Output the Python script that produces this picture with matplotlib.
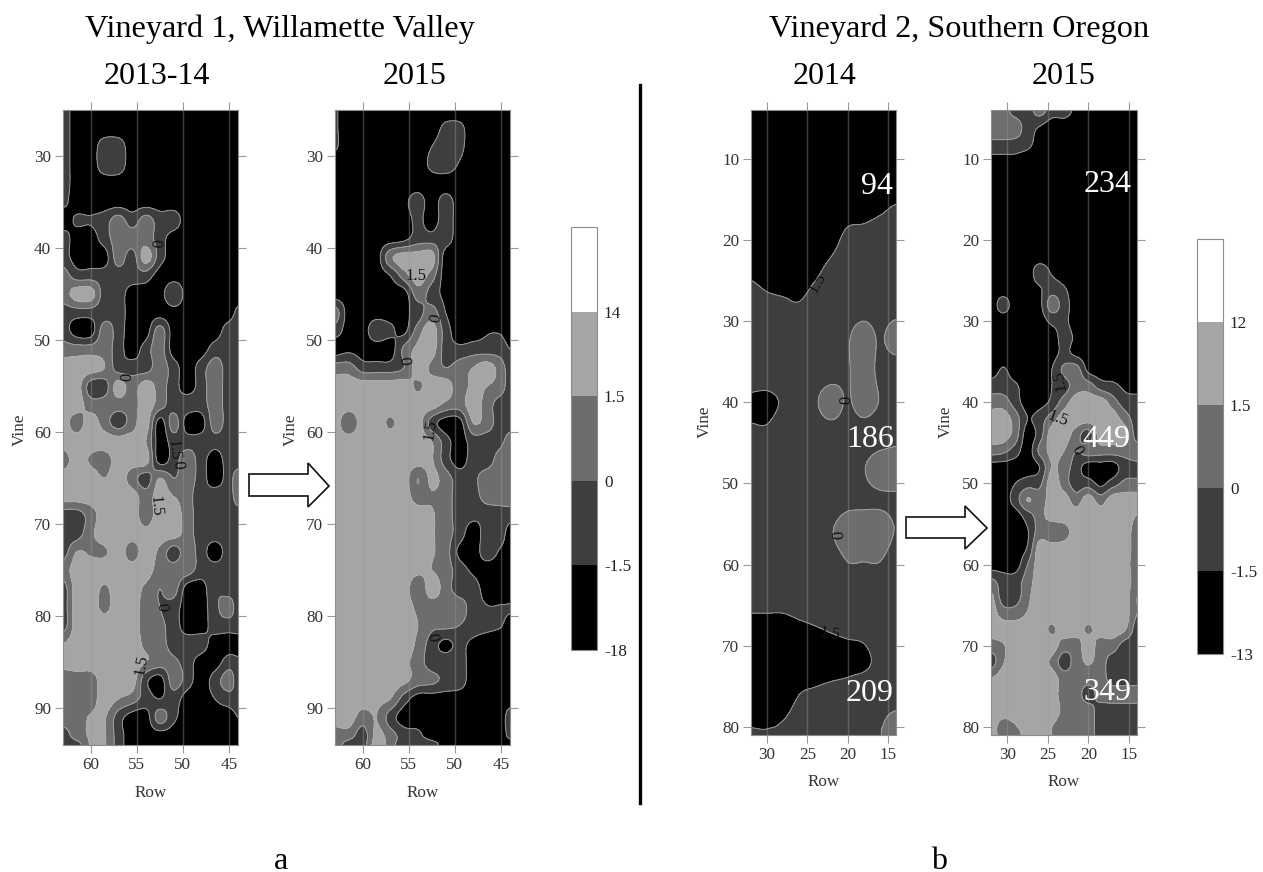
import numpy as np
import matplotlib
matplotlib.use("Agg")
import matplotlib.pyplot as plt
from matplotlib.patches import Polygon
from matplotlib.lines import Line2D

plt.rcParams['font.family'] = ['Liberation Serif', 'DejaVu Serif']

W, H = 1263, 872

# band values (-3 black, -1 dark, 1 mid, 3 light), scaled below
rows_v1 = [63, 61.5, 60, 58.5, 57, 55.5, 54, 52.5, 51, 49.5, 48, 46.5, 45, 44]
vines_v1 = list(range(25, 94, 2)) + [94]

v1_2013 = [
    [-1, -3, -3, -3, -3, -3, -3, -3, -3, -3, -3, -3, -3, -3],
    [-1, -3, -3, -3, -3, -3, -3, -3, -3, -3, -3, -3, -3, -3],
    [-1, -3, -3, -1, -1, -3, -3, -3, -3, -3, -3, -3, -3, -3],
    [-1, -3, -3, -1, -1, -3, -3, -3, -3, -3, -3, -3, -3, -3],
    [-1, -3, -3, -3, -3, -3, -3, -3, -3, -3, -3, -3, -3, -3],
    [-1.5, -3, -3, -3, -3, -3, -3, -3, -3, -3, -3, -3, -3, -3],
    [-3, -1.7, -1.8, -1, 1, -1, 1, -1, -1, -3, -3, -3, -3, -3],
    [-1, -3, -3, -1, 1, 1, 1, -1, -3, -3, -3, -3, -3, -3],
    [-1, -3, -3, -3, 1, -1, 3, -1, -3, -3, -3, -3, -3, -3],
    [1, -1, -1, -1, -1, -1, -1, -3, -3, -3, -3, -3, -3, -3],
    [1, 3, 3, -1, -1, -3, -3, -3, 0, -3, -3, -3, -3, -3],
    [-1, -1, -1, -1, -1, -3, -3, -3, -3, -3, -3, -3, -3, -1.5],
    [-1, -3, -3, 1, -1, -3, -3, 1, -3, -3, -3, -3, -1, -1],
    [1, 1, 1, 1, -1, -3, -1, 1, -3, -3, -3, -1, -1, -1],
    [3, 3, 3, 2, -1, -1, -1, 1, -1, -3, -1, 1, -1, -1],
    [3, 3, -1, -1, 3, 1, 3, 1, -1, -3, -1, 1, -1, -1],
    [3, 3, 1, 1, 1, 1, 3, 1, -1, -1, -1, 1, -1, -1],
    [3, 1, 3, 1, -1, 1, 3, -3, 1, -3, -3, 1, -1, -1],
    [3, 3, 3, 3, 3, 3, 2, -3, -1, -1, -1, -1, -1, -1],
    [1, 3, 1.7, 1, 3, 3, 3, -3, -1, 1, -1, -3, -1, -1],
    [3, 3, 3, 2, 3, 1, -1, 2, 0, 1, -1, -3, -1, 1],
    [3, 3, 3, 3, 3, 3, 1, 3, 2, 1, -1.5, -1, -1, 1],
    [-1, -1, 1, 3, 3, 3, 1, 3, 3, 1, -1, -1, -1, -1],
    [-1, -1, 1.5, 3, 3, 3, 2.5, 3, 3, 1, -1, -1, -1, -1],
    [-1, 2, 1.7, 1.7, 3, 1, 3, 1.5, -1, 1, -1, -3, -1, -1],
    [1, 3, 3, 3, 3, 3, 3, 1, 1, 1, -1, -1, -1, -1],
    [-1, 3, 3, 1.7, 3, 3, 1.5, 0, 1, -3, -3, -0.3, -1, -1],
    [-1, 3, 3, 1.5, 3, 3, 1, 0, -1, -3, -3, -0.6, 1, -1],
    [-1, 3, 3, 3, 3, 3, 1, 0.5, -1, -3, -3, -1, -1, -1],
    [2, 3, 3, 3, 3, 3, 1.5, 1, -1, -1, -1, -3, -3, -3],
    [2.5, 3, 3, 3, 3, 3, 2, 1, 0.5, -1, -3, -3, -1, -1.5],
    [1, 1, 1, 3, 3, 3, -1.5, -3, 1, -1, -3, -1, 1, -1],
    [1, 1, 1, 3, 2, 1, -1, -2, -1, -3, -3, -2, -1, -1],
    [1, 1, 2.2, 2.2, -1, -3, -3, 1, -1.5, -3, -3, -3, -3, -2],
    [-1, 1, 2.2, 2.2, -1, -3, -3, -3, -3, -3, -3, -3, -3, -3],
    [-1, -1, 2.2, 2.2, -1, -3, -3, -3, -3, -3, -3, -3, -3, -3],
]

v1_2015 = [
    [-1.8, -3, -3, -3, -3, -3, -3, -3, -3, -3, -3, -3, -3, -3],
    [-1.8, -3, -3, -3, -3, -3, -3, -3, -1.5, -1.5, -3, -3, -3, -3],
    [-1.8, -3, -3, -3, -3, -3, -3, -2, -1, -1.5, -3, -3, -3, -3],
    [-3, -3, -3, -3, -3, -3, -3, -1.6, -1, -2.2, -3, -3, -3, -3],
    [-3, -3, -3, -3, -3, -3, -3, -3, -3, -3, -3, -3, -3, -3],
    [-3, -3, -3, -3, -3, -2.5, -1, -3, -1, -3, -3, -3, -3, -3],
    [-3, -3, -3, -3, -3, -3, -1.5, -3, -1, -3, -3, -3, -3, -3],
    [-3, -3, -3, -3, -3, -2.5, -1, -1, -1, -3, -3, -3, -3, -3],
    [-3, -3, -3, -3, 1.5, 3, 3, 3, -3, -3, -3, -3, -3, -3],
    [-3, -3, -3, -3, -2, 1, 3, 1, -3, -3, -3, -3, -3, -3],
    [-3, -3, -3, -3, -3, -3, 1, -1, -2.5, -3, -3, -3, -3, -3],
    [1, -3, -3, -3, -3, -2.5, -1, 1, -2, -3, -3, -3, -3, -3],
    [-1, -3, -3, -0.5, -1.5, -2.5, 1, 3, -1, -3, -3, -2.2, -2.2, -3],
    [-3, -2.5, -3, -3, -3, 0.5, 2.5, 3, -1, -1.5, -1, -1, -1, -2],
    [1, 1, -1, -1, -1, 0, 3, 1.5, 0, 1, 2, 3, 1, -1],
    [3, 3, 3, 3, 3, 3, 1.7, 3, 3, 1, 2.5, 2, 1, -1],
    [3, 3, 3, 3, 3, 3, 3, 3, 1.5, 1, 3, 1, -1, -1],
    [3, 0.5, 3, 3, 1.7, 3, 3, -1, -3, -3, 2, 1, -1, -1],
    [3, 3, 3, 3, 3, 3, 3, 2, -1, -3, -1, -1, -0.5, 1],
    [3, 3, 3, 3, 3, 3, 3, 2.2, -1, -3, -1, -1, 1, 1],
    [3, 3, 3, 3, 3, 3, 0, 2.5, 1, -1, -0.5, 1, 1, 1],
    [3, 3, 3, 3, 3, 3, 1, 1.8, 1, -1, -1, 1, 1, 1],
    [3, 3, 3, 3, 3, 3, 3, 2.2, 1, -1, -1.5, -1.5, -1, -1],
    [3, 3, 3, 3, 3, 3, 3, 2.2, 1, -1, -3, -1, -1, -3],
    [3, 3, 3, 3, 3, 3, 3, 2.2, 1, -2.5, -3, -1, -2.3, -3],
    [3, 3, 3, 3, 3, 3, 2.5, 2, 1, -1, -2.4, -3, -3, -3],
    [3, 3, 3, 3, 3, 3, 0.5, 3, 1, -1, -1, -3, -3, -3],
    [3, 3, 3, 3, 3, 3, 1.5, 1, 1, 1, -1, -1.9, -1.9, -1.9],
    [3, 3, 3, 3, 3, 3, 2, 0.5, 0.5, 0, -1, -1.5, -1.9, -2.5],
    [3, 3, 3, 3, 3, 3, 1.5, -1, -2.5, -1.5, -2.5, -3, -3, -3],
    [3, 3, 3, 3, 3, 2.5, 1, -1, -1, -1, -3, -3, -3, -3],
    [3, 3, 3, 3, 3, 2.5, 1, 0.5, -0.5, -1, -3, -3, -3, -3],
    [3, 3, 3, 2.5, 2, -1, -3, -3, -3, -3, -3, -3, -3, -3],
    [3, 3, 1, 2, -1, -3, -3, -3, -3, -3, -3, -3, -3, -1],
    [1, 1, -1, 2.5, 1, -1, -1.5, -3, -3, -3, -3, -3, -3, -1.5],
    [1, -1, -1, 3, 1, -1.5, -1, -1, -3, -3, -3, -3, -3, -3],
]

rows_v2_2014 = [32, 30, 28, 26, 24, 22, 20, 18, 16, 14]
vines_v2_2014 = [4, 8, 12, 16, 20, 24, 28, 32, 36, 40, 44, 48, 52, 56, 60, 64, 68, 72, 76, 80, 81]

v2_2014 = [
    [-3, -3, -3, -3, -3, -3, -3, -3, -3, -3],
    [-3, -3, -3, -3, -3, -3, -3, -3, -3, -3],
    [-3, -3, -3, -3, -3, -3, -3, -3, -3, -2.9],
    [-3, -3, -3, -3, -3, -3, -2.6, -2.5, -2.25, -1.9],
    [-3, -3, -3, -3, -3, -2.5, -1.6, -1.5, -1.25, -1],
    [-2.25, -2.6, -2.75, -2.9, -2.25, -1.5, -1, -1, -1, -1],
    [-1.25, -1.6, -1.75, -1.9, -1.25, -1, -1, -1, -1, -1],
    [-1, -1, -1, -1, -1, -1, -0.2, 1, -0.2, 1],
    [-1, -1, -1, -1, -1, -1, -0.2, 1, -0.5, -1],
    [-2.3, -2.4, -1.8, -1, -0.2, 1, -0.2, 1, -0.1, -1],
    [-1.7, -1.7, -1, -1, -1, -1, -1, -1, -1, -0.6],
    [-1, -1, -1, -1, -1, -1, -1, -0.1, 1, 1],
    [-1, -1, -1, -1, -1, -1, -0.6, -0.4, -0.3, -0.3],
    [-1, -1, -1, -1, -1, -0.1, 1, 1, 1, -0.1],
    [-1, -1, -1, -1, -1, -1, -0.1, -0.1, -0.1, -1],
    [-1.5, -1.5, -1.5, -1.3, -1.1, -1, -1, -1, -1, -1],
    [-2.5, -2.5, -2.5, -2.3, -2.1, -1.9, -1.75, -1.6, -1, -1],
    [-3, -3, -3, -3, -2.75, -2.55, -2.4, -2.3, -1.6, -1],
    [-3, -3, -3, -2, -1.75, -1.55, -1.4, -1, -1, -1],
    [-2.05, -2.1, -1.8, -1, -1, -1, -1, -1, -0.2, 1],
    [-1.9, -1.9, -1.5, -1, -1, -1, -1, -1, -0.1, 1],
]

rows_v2_2015 = [32, 30.5, 29, 27.5, 26, 24.5, 23, 21.5, 20, 18.5, 17, 15.5, 14]
vines_v2_2015 = [4, 6, 8, 10, 16, 22] + list(range(24, 81, 2)) + [81]

v2_2015 = [
    [1, 1, -1, -1, 1, -1, -1, -2.5, -3, -3, -3, -3, -3],
    [1, 1, 1, -1, -2, -3, -3, -3, -3, -3, -3, -3, -3],
    [-0.3, -0.3, -0.5, -1.2, -3, -3, -3, -3, -3, -3, -3, -3, -3],
    [-2.5, -2.5, -2.5, -3, -3, -3, -3, -3, -3, -3, -3, -3, -3],
    [-3, -3, -3, -3, -3, -3, -3, -3, -3, -3, -3, -3, -3],
    [-3, -3, -3, -3, -3, -3, -3, -3, -3, -3, -3, -3, -3],
    [-3, -3, -3, -3, -1, -2.2, -3, -3, -3, -3, -3, -3, -3],
    [-3, -3, -3, -3, -2.2, -1, -1.8, -3, -3, -3, -3, -3, -3],
    [-3, -1.2, -3, -3, -2.5, 1, -1, -3, -3, -3, -3, -3, -3],
    [-3, -3, -3, -3, -3, -1.5, -1.5, -3, -3, -3, -3, -3, -3],
    [-3, -3, -3, -3, -3, -3, -1.2, -2.4, -3, -3, -3, -3, -3],
    [-3, -3, -3, -3, -3, -2.8, -1.5, -2.5, -3, -3, -3, -3, -3],
    [-3, -1.8, -3, -3, -3, -2, 0.5, 1, -2.5, -3, -3, -3, -3],
    [-1, -1, -1.7, -3, -3, -2, -1, 1, 1, -1, -1.5, -2.4, -3],
    [1, 1, -1, -3, -2.8, -1.5, 1, 3, 3, 3, 1, -1, -1],
    [3, 3, 1, -2, -1, 1, 3, 3, 3, 3, 3, 1, -1],
    [3, 3, 1, -3, -1, 3, 3, 1, -1, 3, 3, 3, -1],
    [1, 0.5, -1, -3, 0.5, 2.5, 2, 0, 1, 1, 1, 1, 1],
    [-3, -3, -3, -3, -2, 2.1, 1, -1, -3, -3, -3, -1, -0.5],
    [-3, -3, -2, -1, -0.5, 3, 1, -1, -1, -2.5, -1, 0.5, 0.5],
    [-3, -3, -1, 2.1, 1, 3, 3, 1, 3, 1, 3, 3, 3],
    [-3, -3, -3, -1, 1, 3, 3, 3, 3, 3, 3, 3, 1.9],
    [-3, -3, -3, -2.2, 1, 0, 1, 3, 3, 3, 3, 3, 1],
    [-3, -3, -3, -1.8, 3, 3, 3, 3, 3, 3, 3, 3, 1],
    [-3, -3, -3, 0, 3, 3, 3, 3, 3, 3, 3, 3, 0.5],
    [0.5, -1, -1, 1, 3, 3, 3, 3, 3, 3, 3, 3, 1],
    [2.5, -1, -1, 1.5, 3, 3, 3, 3, 3, 3, 3, 3, 0],
    [3, 1, 1, 2.1, 3, 3, 3, 3, 3, 3, 3, 3, 0],
    [3, 3, 3, 3, 3, 1.7, 3, 3, 1.7, 3, 3, 2.2, -1],
    [1, 1.8, 3, 3, 3, 3, 1, 1, 3, 1, 1, -1, -1],
    [-1, 1.8, 3, 3, 3, 1.5, -1, 1, 2.2, 1, -1, -1, -1],
    [2, 3, 3, 3, 3, 3, 1, 1, 1, 1, -1, -1, -1],
    [3, 3, 3, 3, 3, 3, 1, 1, -1, 1, 1, 1, 1],
    [3, 3, 3, 3, 3, 3, 1.5, 1, 1, -1, -1, -1, -1],
    [3, 1, 1.8, 3, 3, 2, 1, 1, 1, -1, -1, -1, -1],
    [3, 1, 1, 3, 3, 2, 1, 1, 1, -1, -1, -1, -1],
]

band_colors = ['#000000', '#3e3e3e', '#6d6d6d', '#a5a5a5', '#ffffff']
levels_v1 = [-18, -1.5, 0, 1.5, 14, 30]
levels_v2 = [-13, -1.5, 0, 1.5, 12, 26]
tick_labels_v1 = ['-18', '-1.5', '0', '1.5', '14']
tick_labels_v2 = ['-13', '-1.5', '0', '1.5', '12']

row_ticks_v1 = [60, 55, 50, 45]
vine_ticks_v1 = [30, 40, 50, 60, 70, 80, 90]
row_ticks_v2 = [30, 25, 20, 15]
vine_ticks_v2 = [10, 20, 30, 40, 50, 60, 70, 80]

# (row, vine, text, rotation)
labels_a = [(56, 54, '0', 90), (52.5, 39.5, '0', 85), (53, 68, '1.5', -85), (52.3, 79, '0', -88),
            (54.5, 85.3, '1.5', 80), (51, 62, '1.5', -85), (50.5, 63.6, '0', -85)]
labels_b = [(54.2, 43, '1.5', 0), (52, 47.6, '0', 80), (55.5, 52.2, '0', -85), (52.5, 82.3, '0', -80),
            (52.6, 59.8, '1.5', 80)]
labels_c = [(23.8, 25.3, '1.5', 60), (20.8, 39.7, '0', -88), (21.6, 56.4, '0', -88), (22.2, 68.5, '1.5', -10)]
labels_d = [(23.5, 37.3, '1.5', 100), (23.8, 42, '1.5', -20), (21.4, 45.9, '0', -60)]


def px_axes(fig, x0, y0, x1, y1):
    return fig.add_axes([x0 / W, 1 - y1 / H, (x1 - x0) / W, (y1 - y0) / H])


def fig_text(fig, x, y, s, size, **kw):
    fig.text(x / W, 1 - (y + 3) / H, s, fontsize=size, ha='center', va='center', **kw)


def round_contours(coords, z, n=6):
    # Catmull-Rom between the read values, only so the bands have round edges
    z = np.asarray(z, dtype=float)
    m = z.shape[0]
    t = np.linspace(0, m - 1, (m - 1) * n + 1)
    i = np.minimum(t.astype(int), m - 2)
    f = (t - i)[:, None]
    p0 = z[np.maximum(i - 1, 0)]
    p1 = z[i]
    p2 = z[i + 1]
    p3 = z[np.minimum(i + 2, m - 1)]
    out = 0.5 * (2 * p1 + (p2 - p0) * f + (2 * p0 - 5 * p1 + 4 * p2 - p3) * f ** 2
                 + (3 * p1 - p0 - 3 * p2 + p3) * f ** 3)
    return np.interp(t, np.arange(m), coords), out


def draw_map(fig, box, rows, vines, grid, levels, xticks, yticks, labels, vine_x, vine_y, row_y):
    ax = px_axes(fig, *box)
    z = np.array(grid) * 0.75
    yy, z = round_contours(vines, z)
    xx, z = round_contours(rows, z.T)
    z = z.T
    cf = ax.contourf(xx, yy, z, levels=levels, colors=band_colors, extend='neither')
    ax.contour(xx, yy, z, levels=levels[1:4], colors='#b0b0b0', linewidths=0.7, alpha=0.8,
               linestyles='solid')
    for r in xticks:
        ax.axvline(r, color='#9a9a9a', lw=1, alpha=0.4)
    ax.set_xlim(rows[0], rows[-1])
    ax.set_ylim(vines[-1], vines[0])
    ax.set_xticks(xticks)
    ax.set_yticks(yticks)
    ax.tick_params(top=True, right=True, length=5.5, width=0.8, color='#999999',
                   labelsize=12.3, labelcolor='#333333', pad=3)
    for s in ax.spines.values():
        s.set_color('#8c8c8c')
    bw = box[2] - box[0]
    bh = box[3] - box[1]
    ax.set_xlabel('Row', fontsize=12.3, color='#333333')
    ax.set_ylabel('Vine', fontsize=12.3, color='#333333')
    ax.xaxis.set_label_coords(0.5, -(row_y - box[3]) / bh, transform=ax.transAxes)
    ax.yaxis.set_label_coords(-(box[0] - vine_x) / bw, 1 - (vine_y - box[1]) / bh, transform=ax.transAxes)
    ax.xaxis.label.set_va('center')
    ax.yaxis.label.set_va('center')
    for r, v, s, rot in labels:
        ax.text(r, v, s, rotation=rot, fontsize=12, color='#111111', ha='center', va='center')
    return cf


def draw_scale(fig, box, cf, tick_labels):
    cax = px_axes(fig, *box)
    cb = fig.colorbar(cf, cax=cax)
    cb.set_ticks(cf.levels[:-1])
    cb.set_ticklabels(tick_labels)
    cb.ax.tick_params(length=0, labelsize=12.3, labelcolor='#222222', pad=5)
    cb.outline.set_edgecolor('#8c8c8c')
    cb.dividers.set_visible(False)


fig = plt.figure(figsize=(W / 100, H / 100), dpi=100)

cf1 = draw_map(fig, (63, 110, 238, 745), rows_v1, vines_v1, v1_2013, levels_v1,
               row_ticks_v1, vine_ticks_v1, labels_a, 20, 430, 793)
draw_map(fig, (335, 110, 510, 745), rows_v1, vines_v1, v1_2015, levels_v1,
         row_ticks_v1, vine_ticks_v1, labels_b, 291, 430, 793)
cf3 = draw_map(fig, (751, 110, 896, 735), rows_v2_2014, vines_v2_2014, v2_2014, levels_v2,
               row_ticks_v2, vine_ticks_v2, labels_c, 705, 422, 782)
draw_map(fig, (991, 110, 1137, 735), rows_v2_2015, vines_v2_2015, v2_2015, levels_v2,
         row_ticks_v2, vine_ticks_v2, labels_d, 946, 422, 782)

draw_scale(fig, (571, 227, 597, 650), cf1, tick_labels_v1)
draw_scale(fig, (1197, 239, 1223, 654), cf3, tick_labels_v2)

fig_text(fig, 280, 26, 'Vineyard 1, Willamette Valley', 23.2)
fig_text(fig, 959, 26, 'Vineyard 2, Southern Oregon', 23.2)
fig_text(fig, 157, 73, '2013-14', 23)
fig_text(fig, 415, 73, '2015', 23)
fig_text(fig, 825, 73, '2014', 23)
fig_text(fig, 1064, 73, '2015', 23)
fig_text(fig, 281, 858, 'a', 23)
fig_text(fig, 939, 858, 'b', 23)

for x, y, s in [(877, 183, '94'), (870, 436, '186'), (870, 690, '209'),
                (1108, 182, '234'), (1106, 436, '449'), (1107, 689, '349')]:
    fig_text(fig, x, y, s, 23, color='white')

for pts in [[(249, 474), (308, 474), (308, 463), (329, 486), (308, 507), (308, 496), (249, 496)],
            [(906, 517), (965, 517), (965, 506), (987, 528), (965, 549), (965, 538), (906, 538)]]:
    fig.add_artist(Polygon([(x / W, 1 - y / H) for x, y in pts], closed=True, facecolor='white',
                           edgecolor='#111111', lw=1.2, transform=fig.transFigure))

fig.add_artist(Line2D([640 / W, 640 / W], [1 - 85 / H, 1 - 803 / H], color='black', lw=2.4,
                      transform=fig.transFigure))

fig.savefig('out.png', dpi=100)
